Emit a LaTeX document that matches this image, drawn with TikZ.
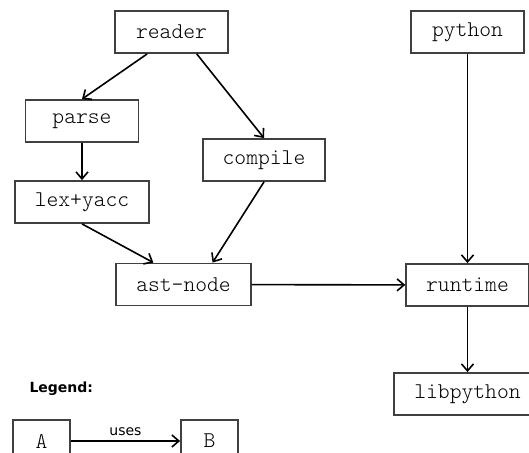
\documentclass[tikz,border=0pt]{standalone}
\usepackage{fontspec}
\setmonofont{Latin Modern Mono Light}
\newfontfamily\legendfont{DejaVu Sans}
\usetikzlibrary{arrows.meta}

\tikzstyle{module}=[draw=black!75,line width=1.8pt,fill=white,minimum width=113pt,minimum height=42pt,
                    inner xsep=20pt,font=\ttfamily\fontsize{22.5}{26}\selectfont]
\tikzstyle{legend module} = [module, minimum width=57pt, inner xsep=4pt]
\tikzstyle{uses} = [draw,line width=1.6pt,-{Straight Barb[length=7pt,width=12pt]}]

\begin{document}
\begin{tikzpicture}[x=1pt,y=-1pt]
    \useasboundingbox (0,0) rectangle (529,452);
    \foreach \pos/\name/\txt in {{(171.5,32)/reader/reader}, {(467.5,32)/python/python},
                            {(82,121)/parse/parse}, {(264,160)/compile/compile},
                            {(82,202)/lexyacc/lex+yacc}, {(183.5,284.5)/astnode/ast-node},
                            {(467.5,285)/runtime/runtime}, {(467.5,394)/libpython/libpython}}
        \node[module] (\name) at \pos {\txt};
    \foreach \source/ \dest  in {reader.222/parse.north, reader.319/compile.north,
                                 parse/lexyacc, lexyacc.south/astnode.144, compile.south/astnode.37,
                                 astnode/runtime, python/runtime, runtime/libpython}
        \path[uses] (\source) -- (\dest);
    % legend
    \node[font=\legendfont\bfseries\fontsize{14}{16}\selectfont, anchor=west] (legend) at (26,389) {Legend:};
    \node[legend module] (a) at (41.5,441) {A};
    \node[legend module] (b) at (209.5,441) {B};
    \path[uses] (a) -- node[above=1pt, font=\legendfont\fontsize{14}{16}\selectfont] {uses} (b);
\end{tikzpicture}
\end{document}
